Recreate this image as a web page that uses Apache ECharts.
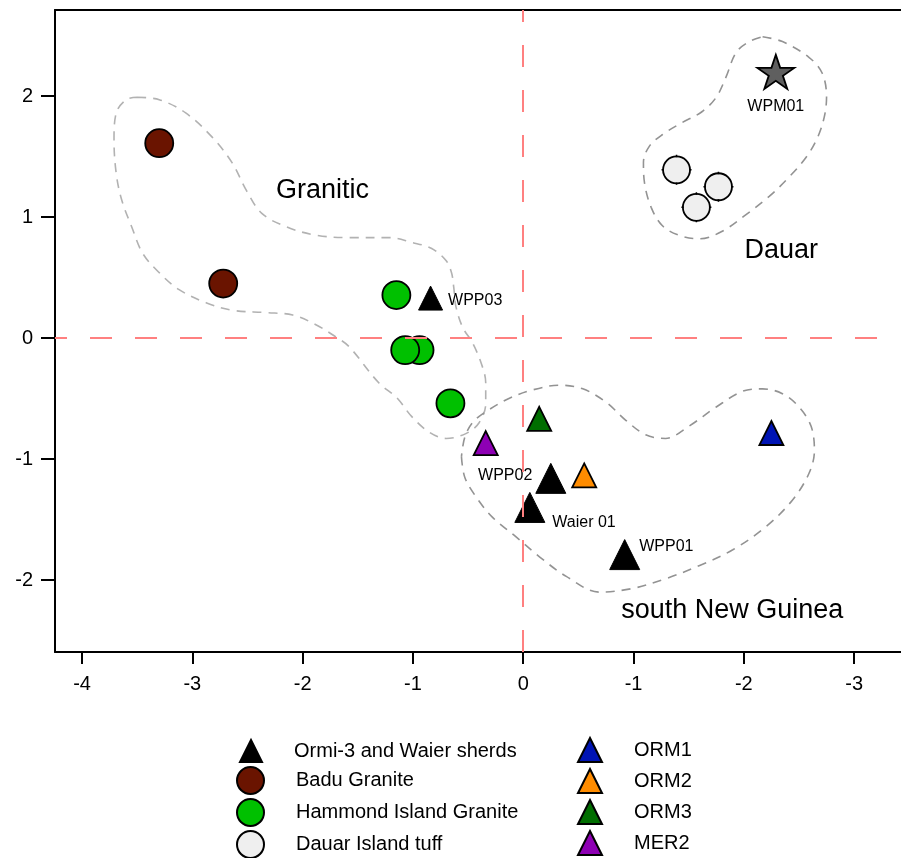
<!DOCTYPE html>
<html>
<head>
<meta charset="utf-8">
<script src="https://cdn.jsdelivr.net/npm/echarts@6/dist/echarts.min.js"></script>
<style>html,body{margin:0;padding:0;background:#fff}#c{width:901px;height:858px}</style>
</head>
<body>
<div id="c"></div>
<script>
// ---- data ----
const xTickValues = [-4, -3, -2, -1, 0, 1, 2, 3];
const xTickLabels = ['-4', '-3', '-2', '-1', '0', '-1', '-2', '-3'];
const yTickValues = [-2, -1, 0, 1, 2];
const yTickLabels = ['-2', '-1', '0', '1', '2'];

const sherdNames = ['WPP03', 'WPP02', 'Waier 01', 'WPP01'];
const sherdPoints = [[-0.84, 0.33], [0.25, -1.16], [0.06, -1.40], [0.92, -1.79]];
const baduPoints = [[-3.30, 1.61], [-2.72, 0.45]];
const hammondPoints = [[-1.15, 0.355], [-0.94, -0.10], [-1.07, -0.10], [-0.66, -0.54]];
const dauarPoints = [[1.39, 1.39], [1.77, 1.25], [1.57, 1.08]];
const wpmName = 'WPM01';
const wpmPoint = [[2.29, 2.20]];
const orm1Points = [[2.25, -0.785]];
const orm2Points = [[0.553, -1.136]];
const orm3Points = [[0.145, -0.668]];
const mer2Points = [[-0.34, -0.868]];

const regionNames = ['Granitic', 'Dauar', 'south New Guinea'];
const regionLabelPoints = [[-1.82, 1.215], [2.34, 0.72], [1.895, -2.25]];

const graniticOutline = [
  [-3.50,1.99],[-3.30,1.97],[-3.06,1.86],[-2.82,1.66],[-2.64,1.45],[-2.51,1.22],[-2.37,1.03],
  [-2.15,0.92],[-1.88,0.85],[-1.58,0.83],[-1.21,0.83],[-1.01,0.79],[-0.83,0.74],[-0.70,0.64],
  [-0.65,0.54],[-0.63,0.42],[-0.61,0.26],[-0.55,0.09],[-0.46,-0.04],[-0.38,-0.21],[-0.34,-0.37],
  [-0.34,-0.54],[-0.40,-0.70],[-0.52,-0.79],[-0.70,-0.83],[-0.85,-0.78],[-1.01,-0.65],[-1.15,-0.49],
  [-1.31,-0.37],[-1.58,-0.07],[-1.70,0.01],[-1.88,0.11],[-2.09,0.19],[-2.33,0.21],[-2.64,0.23],
  [-2.87,0.29],[-3.12,0.40],[-3.30,0.54],[-3.45,0.70],[-3.55,0.92],[-3.64,1.14],[-3.69,1.36],
  [-3.71,1.64],[-3.69,1.86],[-3.60,1.97],[-3.50,1.99]
];
const dauarOutline = [
  [2.17,2.49],[2.35,2.45],[2.59,2.32],[2.71,2.19],[2.75,1.99],[2.73,1.83],[2.67,1.66],[2.57,1.50],
  [2.41,1.33],[2.23,1.17],[2.02,1.02],[1.80,0.88],[1.60,0.82],[1.41,0.85],[1.26,0.93],[1.16,1.08],
  [1.10,1.28],[1.09,1.45],[1.14,1.58],[1.26,1.68],[1.44,1.78],[1.62,1.87],[1.75,1.99],[1.84,2.16],
  [1.93,2.36],[2.05,2.45],[2.17,2.49]
];
const sngOutline = [
  [-0.56,-0.98],[-0.53,-1.15],[-0.43,-1.31],[-0.28,-1.48],[-0.07,-1.64],[0.15,-1.81],[0.39,-1.97],
  [0.69,-2.10],[0.99,-2.07],[1.29,-1.99],[1.60,-1.88],[1.90,-1.75],[2.20,-1.56],[2.44,-1.34],
  [2.59,-1.12],[2.64,-0.93],[2.61,-0.73],[2.50,-0.57],[2.35,-0.46],[2.17,-0.42],[1.99,-0.44],
  [1.75,-0.57],[1.50,-0.73],[1.29,-0.83],[1.11,-0.80],[0.93,-0.68],[0.75,-0.53],[0.54,-0.42],
  [0.33,-0.39],[0.08,-0.43],[-0.13,-0.50],[-0.34,-0.61],[-0.46,-0.70],[-0.53,-0.82],[-0.56,-0.98]
];

// ---- layout / style ----
const FONT = '"Liberation Sans", Arial, Helvetica, sans-serif';
const xMin = -4.245, xMax = 3.425, yMin = -2.595, yMax = 2.711;
const sherdLabelStyle = {
  'WPP03': { size: 24, position: 'right', offset: [0, 3] },
  'WPP02': { size: 30, position: 'left', offset: [2, -3] },
  'Waier 01': { size: 30, position: 'right', offset: [2, 15] },
  'WPP01': { size: 30, position: 'right', offset: [-6, -8] }
};
const STAR = 'path://M0,-1L0.2245,-0.309L0.951,-0.309L0.363,0.118L0.588,0.809L0,0.382L-0.588,0.809L-0.363,0.118L-0.951,-0.309L-0.2245,-0.309Z';
const TICKS = 'path://M0,-1L0,-0.84M0,0.84L0,1M-1,0L-0.84,0M0.84,0L1,0';

function outline(name, pts, color) {
  return {
    name: name, type: 'line', data: pts, smooth: 0.35, symbol: 'none', silent: true, z: 1,
    lineStyle: { color: color, width: 1.6, type: [9, 7] }
  };
}
function scatter(name, pts, symbol, size, color) {
  return {
    name: name, type: 'scatter', data: pts, symbol: symbol, symbolSize: size, z: 3, symbolKeepAspect: true,
    itemStyle: { color: color, borderColor: '#000', borderWidth: 1.8, opacity: 1 }
  };
}
function legendBlock(names, left, top, size, gap) {
  return {
    data: names, orient: 'vertical', left: left, top: top, padding: 0, height: 140,
    itemWidth: size, itemHeight: size, itemGap: gap, symbolKeepAspect: true,
    textStyle: { fontSize: 20, color: '#000', fontFamily: FONT, lineHeight: 20, padding: [6, 0, 0, 27] },
    selectedMode: false
  };
}

const chart = echarts.init(document.getElementById('c'), null, { renderer: 'canvas' });
const axisCommon = {
  axisLine: { show: true, onZero: false, lineStyle: { color: '#000', width: 2 } },
  splitLine: { show: false }
};

const option = {
  animation: false,
  backgroundColor: '#fff',
  textStyle: { fontFamily: FONT },
  grid: { left: 55, right: 0, top: 10, bottom: 206, containLabel: false },
  xAxis: [
    Object.assign({
      type: 'value', min: xMin, max: xMax,
      axisTick: { show: true, inside: false, length: 12, customValues: xTickValues, lineStyle: { color: '#000', width: 2 } },
      axisLabel: {
        show: true, customValues: xTickValues, margin: 22, fontSize: 20, color: '#000', fontFamily: FONT,
        formatter: function (v) { const i = xTickValues.indexOf(Math.round(v)); return i >= 0 ? xTickLabels[i] : ''; }
      }
    }, axisCommon),
    Object.assign({
      type: 'value', min: xMin, max: xMax, position: 'top',
      axisTick: { show: false }, axisLabel: { show: false }
    }, axisCommon)
  ],
  yAxis: Object.assign({
    type: 'value', min: yMin, max: yMax,
    axisTick: { show: true, inside: false, length: 14, customValues: yTickValues, lineStyle: { color: '#000', width: 2 } },
    axisLabel: {
      show: true, customValues: yTickValues, margin: 22, fontSize: 20, color: '#000', fontFamily: FONT,
      formatter: function (v) { const i = yTickValues.indexOf(Math.round(v)); return i >= 0 ? yTickLabels[i] : ''; }
    }
  }, axisCommon),
  legend: [
    legendBlock(['Ormi-3 and Waier sherds'], 239, 738, 22, 0),
    legendBlock(['Badu Granite', 'Hammond Island Granite', 'Dauar Island tuff'], 236, 766, 27, 3),
    legendBlock(['ORM1', 'ORM2', 'ORM3', 'MER2'], 577, 737, 24, 5)
  ],
  series: [
    Object.assign(outline('graniticOutline', graniticOutline, '#b2b2b2'), {
      markLine: {
        silent: true, symbol: ['none', 'none'], label: { show: false }, animation: false,
        data: [
          [{ coord: [xMin, 0] }, { coord: [3.3, 0] }],
          [{ coord: [0, yMax] }, { coord: [0, yMin] }]
        ],
        lineStyle: { color: '#ff8080', width: 2, type: [22, 23], dashOffset: 10 }
      }
    }),
    outline('dauarOutline', dauarOutline, '#939393'),
    outline('sngOutline', sngOutline, '#939393'),
    scatter('Badu Granite', baduPoints, 'circle', 28, '#6a1400'),
    scatter('Hammond Island Granite', hammondPoints, 'circle', 28, '#00c000'),
    scatter('Dauar Island tuff', dauarPoints, 'circle', 27, '#efefef'),
    {
      name: 'dauarTicks', type: 'scatter', data: dauarPoints, symbol: TICKS, symbolSize: 30, z: 4, silent: true,
      itemStyle: { color: 'none', borderColor: '#000', borderWidth: 1.5, opacity: 1 }
    },
    {
      name: 'WPM01', type: 'scatter', symbol: STAR, symbolSize: [37, 34], symbolKeepAspect: false, z: 3,
      itemStyle: { color: '#5f5f5f', borderColor: '#000', borderWidth: 1.8, opacity: 1 },
      data: wpmPoint.map(p => ({ value: p, name: wpmName })),
      label: { show: true, position: 'bottom', offset: [0, 4], formatter: '{b}', fontSize: 16, color: '#000', fontFamily: FONT }
    },
    {
      name: 'Ormi-3 and Waier sherds', type: 'scatter', symbol: 'triangle', z: 3, symbolKeepAspect: true,
      itemStyle: { color: '#000', borderColor: '#000', borderWidth: 1, opacity: 1 },
      data: sherdPoints.map((p, i) => {
        const s = sherdLabelStyle[sherdNames[i]];
        return {
          value: p, name: sherdNames[i], symbolSize: s.size,
          label: { show: true, position: s.position, offset: s.offset, formatter: '{b}', fontSize: 16, color: '#000', fontFamily: FONT }
        };
      })
    },
    scatter('ORM1', orm1Points, 'triangle', 24, '#0014b4'),
    scatter('ORM2', orm2Points, 'triangle', 24, '#ff8c00'),
    scatter('ORM3', orm3Points, 'triangle', 24, '#006e00'),
    scatter('MER2', mer2Points, 'triangle', 24, '#8e00b4'),
    {
      name: 'regionLabels', type: 'scatter', symbolSize: 1, silent: true, z: 5,
      itemStyle: { color: 'rgba(0,0,0,0)', opacity: 1 },
      data: regionLabelPoints.map((p, i) => ({ value: p, name: regionNames[i] })),
      label: { show: true, position: 'inside', formatter: '{b}', fontSize: 27, color: '#000', fontFamily: FONT }
    }
  ]
};
chart.setOption(option);
</script>
</body>
</html>
